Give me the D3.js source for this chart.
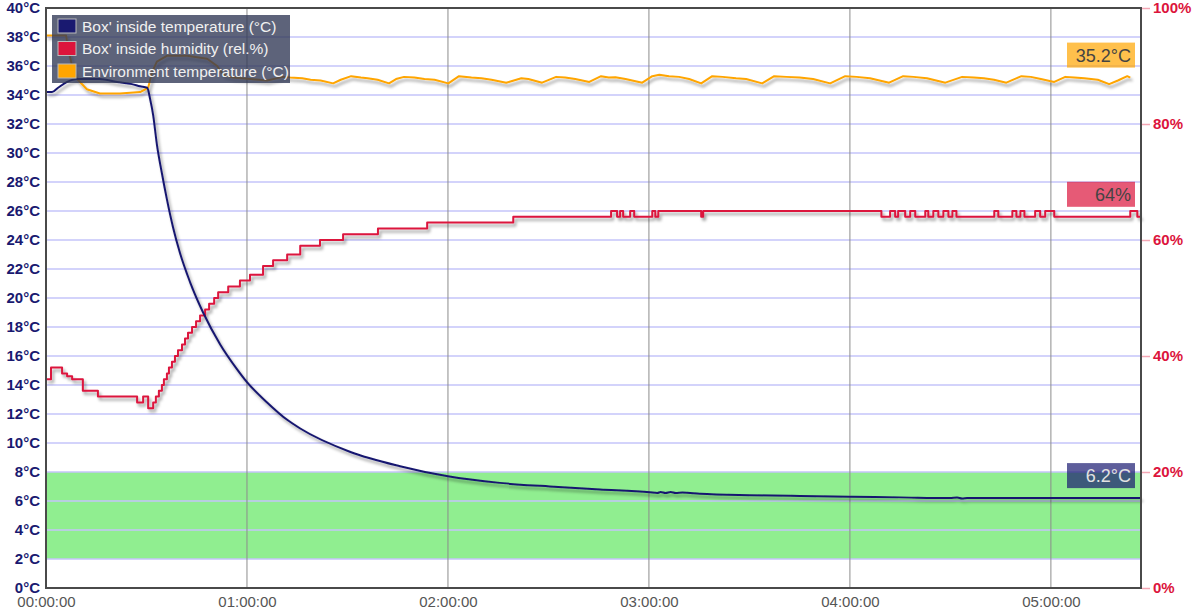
<!DOCTYPE html>
<html>
<head>
<meta charset="utf-8">
<script src="https://cdn.jsdelivr.net/npm/d3@7"></script>
<style>
  body { margin: 0; background: #fff; }
  svg { display: block; font-family: "Liberation Sans", Arial, Helvetica, sans-serif; }
</style>
</head>
<body>
<script>
// time in minutes since start
let boxTempTime = [0,1.8,3.6,6.3,9.3,16.1,21.2,25.7,28.1,30.2,31.1,32.0,33.1,34.6,36.1,37.9,40.0,43.0,46.9,52.0,57.0,60.0,66.0,72.0,75.9,
  90.7,105.7,120.0,135.5,150.4,165.4,180.3,182.5,183.5,185,186.5,188,190,195.2,210.1,225.1,240.0,254.9,269.9,272,273.5,275,284.8,300,326.9];
let boxTempValue = [34.2,34.2,34.5,34.9,35.1,35.1,34.9,34.75,34.6,34.5,33.7,32.6,30.6,28.6,26.8,24.9,23.1,21.1,19.0,16.8,15.1,14.2,12.8,11.6,11.0,
  9.4,8.4,7.7,7.25,7.0,6.8,6.6,6.55,6.62,6.55,6.62,6.55,6.58,6.5,6.4,6.35,6.3,6.25,6.2,6.24,6.17,6.2,6.2,6.2,6.2];

let humTime = [0,1.5,4.8,6.3,7.8,11.0,15.5,27.2,29.0,30.5,32.0,32.8,33.7,34.6,35.2,36.1,36.7,37.6,38.5,39.4,40.6,41.5,42.4,43.6,44.8,46.0,
  47.5,48.7,50.2,51.4,54.4,57.9,60.9,64.8,67.8,72.0,75.9,81.8,88.7,99.1,113.8,139.5,
  168.7,170.5,171.4,172.3,174.4,175.6,181.0,181.9,182.8,195.6,196.2,249.4,
  252.0,253.5,254.4,256.5,258.0,259.5,262.5,263.4,264.9,266.4,267.9,269.4,270.6,271.8,
  283.1,284.3,288.5,289.7,290.9,292.1,295.3,296.8,298.3,301.0,323.7,325.8,326.9];
let humValue = [36,38,37,36.5,36,34,33,32,33,31,32,33,34,35,36,37,38,39,40,41,42,43,44,45,46,47,
  48,49,50,51,52,53,54,55.5,56.5,57.5,59,60,61,62,63,64,
  65,64,65,64,65,64,65,64,65,64,65,64,
  65,64,65,64,65,64,65,64,65,64,65,64,65,64,
  65,64,65,64,65,64,65,64,65,64,65,64,64];

let envTempTime = [0,6.0,6.6,7.8,9.3,12.2,16.1,22.1,28.1,30.5,31.7,33.1,36.1,42.1,48.1,51.1,52.9,55.8,60.9,66.0,70.8,72.9,
  76.5,79,82,85.7,88,91.1,94,96,99,102.4,104.5,106.9,110,113,116,120.1,123.3,127,130,133,137.4,141.9,144,148.1,
  152.3,155,158,162.2,165.7,168,170,173,178.0,181,183.1,186,189,192,195.6,198.9,202,206,209,213.8,217.4,221,225,229,
  234.1,238.6,242,246,251.7,255.9,259,263,268.5,273.5,277,280,283,286.7,291.2,294,297,301.0,304.3,307,310,314,317.4,320,322.8,323.7];
let envTempValue = [38.1,38.1,37.2,36.0,35.1,34.4,34.1,34.1,34.2,34.5,35.6,36.3,36.7,36.7,36.5,36.0,35.4,35.2,35.1,35.0,35.25,35.2,
  35.15,35.05,35.0,34.8,35.05,35.3,35.2,35.15,35.05,34.8,35.1,35.25,35.2,35.1,35.05,34.8,35.3,35.2,35.15,35.05,34.85,35.15,35.1,34.85,
  35.25,35.2,35.1,34.9,35.3,35.2,35.22,35.1,34.85,35.3,35.4,35.3,35.25,35.1,34.8,35.3,35.25,35.15,35.1,34.8,35.3,35.25,35.2,35.1,
  34.8,35.3,35.25,35.15,34.85,35.3,35.25,35.15,34.85,35.25,35.2,35.15,35.05,34.85,35.3,35.25,35.1,34.9,35.25,35.2,35.15,35.05,34.75,35.0,35.3,35.2];

let seriesNames = ["Box' inside temperature (°C)", "Box' inside humidity (rel.%)", "Environment temperature (°C)"];
let seriesColors = ["#191970", "#dc143c", "#ffa500"];
let lastLabels = ["6.2°C", "64%", "35.2°C"];

let tempTicks = [0,2,4,6,8,10,12,14,16,18,20,22,24,26,28,30,32,34,36,38,40];
let humTicks = [0,20,40,60,80,100];
let timeTicks = [0,60,120,180,240,300];
let timeTickLabels = ["00:00:00","01:00:00","02:00:00","03:00:00","04:00:00","05:00:00"];
let goodBand = [2, 8];

let width = 1194, height = 610;
let plot = {left:46, right:1141, top:8, bottom:588};

let x = d3.scaleLinear().domain([0, 326.9]).range([plot.left, plot.right]);
let yT = d3.scaleLinear().domain([0, 40]).range([plot.bottom, plot.top]);
let yH = d3.scaleLinear().domain([0, 100]).range([plot.bottom, plot.top]);

let svg = d3.select("body").append("svg")
    .attr("width", width)
    .attr("height", height);

let defs = svg.append("defs");
defs.append("filter").attr("id", "shadow")
    .attr("x", "-5%").attr("y", "-5%").attr("width", "110%").attr("height", "120%")
  .append("feDropShadow")
    .attr("dx", 2).attr("dy", 3).attr("stdDeviation", 1.5)
    .attr("flood-color", "#000").attr("flood-opacity", 0.38);

// green band
svg.append("rect")
    .attr("x", plot.left).attr("width", plot.right - plot.left)
    .attr("y", yT(goodBand[1])).attr("height", yT(goodBand[0]) - yT(goodBand[1]))
    .attr("fill", "#90ee90");

// grid
svg.append("g").selectAll("line").data(tempTicks.slice(1, -1)).join("line")
    .attr("x1", plot.left).attr("x2", plot.right)
    .attr("y1", d => yT(d)).attr("y2", d => yT(d))
    .attr("stroke", "#c4c4fa").attr("stroke-width", 1.5);
svg.append("g").selectAll("line").data(timeTicks.slice(1)).join("line")
    .attr("x1", d => x(d)).attr("x2", d => x(d))
    .attr("y1", plot.top).attr("y2", plot.bottom)
    .attr("stroke", "#8c8c8c").attr("stroke-width", 1);

// series
let tempLine = d3.line().x(d => x(d[0])).y(d => yT(d[1]));
let smoothTemp = d3.line().curve(d3.curveMonotoneX).x(d => x(d[0])).y(d => yT(d[1]));
let humLine = d3.line().curve(d3.curveStepAfter).x(d => x(d[0])).y(d => yH(d[1]));

let lines = svg.append("g").attr("fill", "none").attr("stroke-width", 2)
    .attr("stroke-linejoin", "round").attr("filter", "url(#shadow)");
lines.append("path").attr("d", tempLine(d3.zip(envTempTime, envTempValue))).attr("stroke", seriesColors[2]);
lines.append("path").attr("d", humLine(d3.zip(humTime, humValue))).attr("stroke", seriesColors[1]);
lines.append("path").attr("d", smoothTemp(d3.zip(boxTempTime, boxTempValue))).attr("stroke", seriesColors[0]);

// frame
svg.append("rect")
    .attr("x", plot.left).attr("y", plot.top)
    .attr("width", plot.right - plot.left).attr("height", plot.bottom - plot.top)
    .attr("fill", "none").attr("stroke", "#4a4a4a").attr("stroke-width", 2);

// axes
let leftAxis = svg.append("g")
    .attr("transform", `translate(${plot.left},0)`)
    .call(d3.axisLeft(yT).tickValues(tempTicks).tickFormat(d => d + "°C").tickSize(0).tickPadding(6));
leftAxis.select(".domain").remove();
leftAxis.selectAll("text").attr("fill", "#191970").attr("font-weight", "bold")
    .attr("font-size", 15).attr("font-family", null);

let rightAxis = svg.append("g")
    .attr("transform", `translate(${plot.right + 1},0)`)
    .call(d3.axisRight(yH).tickValues(humTicks).tickFormat(d => d + "%").tickSize(8).tickPadding(3));
rightAxis.select(".domain").remove();
rightAxis.selectAll("line").attr("stroke", "#f4a6b4").attr("stroke-width", 1.5);
rightAxis.selectAll("text").attr("fill", "#dc143c").attr("font-weight", "bold")
    .attr("font-size", 15).attr("font-family", null);

let bottomAxis = svg.append("g")
    .attr("transform", `translate(0,${plot.bottom})`)
    .call(d3.axisBottom(x).tickValues(timeTicks).tickFormat((d, i) => timeTickLabels[i]).tickSize(0).tickPadding(8));
bottomAxis.select(".domain").remove();
bottomAxis.selectAll("text").attr("fill", "#555").attr("font-size", 15).attr("font-family", null);

// last value labels
let lastVals = [
  {y: yT(boxTempValue[boxTempValue.length - 1]), text: lastLabels[0], color: seriesColors[0], ink: "#e2e2e2"},
  {y: yH(humValue[humValue.length - 1]), text: lastLabels[1], color: seriesColors[1], ink: "#444"},
  {y: yT(envTempValue[envTempValue.length - 1]), text: lastLabels[2], color: seriesColors[2], ink: "#444"}
];
let tags = svg.append("g").selectAll("g").data(lastVals).join("g");
tags.append("rect")
    .attr("x", 1067).attr("width", 68)
    .attr("y", d => d.y - 35).attr("height", 25)
    .attr("fill", d => d.color).attr("fill-opacity", 0.7);
tags.append("text")
    .attr("x", 1131).attr("y", d => d.y - 16)
    .attr("text-anchor", "end").attr("font-size", 18)
    .attr("fill", d => d.ink)
    .text(d => d.text);

// legend
let legend = svg.append("g").attr("transform", "translate(52,15)");
legend.append("rect").attr("width", 238).attr("height", 68)
    .attr("fill", "rgb(47,55,84)").attr("fill-opacity", 0.78);
let rows = legend.selectAll("g.row").data(seriesNames).join("g")
    .attr("class", "row")
    .attr("transform", (d, i) => `translate(0,${11 + i * 22.5})`);
rows.append("rect")
    .attr("x", 6).attr("y", -7).attr("width", 18).attr("height", 14)
    .attr("fill", (d, i) => seriesColors[i])
    .attr("stroke", "#bbb").attr("stroke-width", 1);
rows.append("text")
    .attr("x", 30).attr("y", 5.5)
    .attr("font-size", 15.5).attr("fill", "#f0f0f0")
    .text(d => d);
</script>
</body>
</html>
